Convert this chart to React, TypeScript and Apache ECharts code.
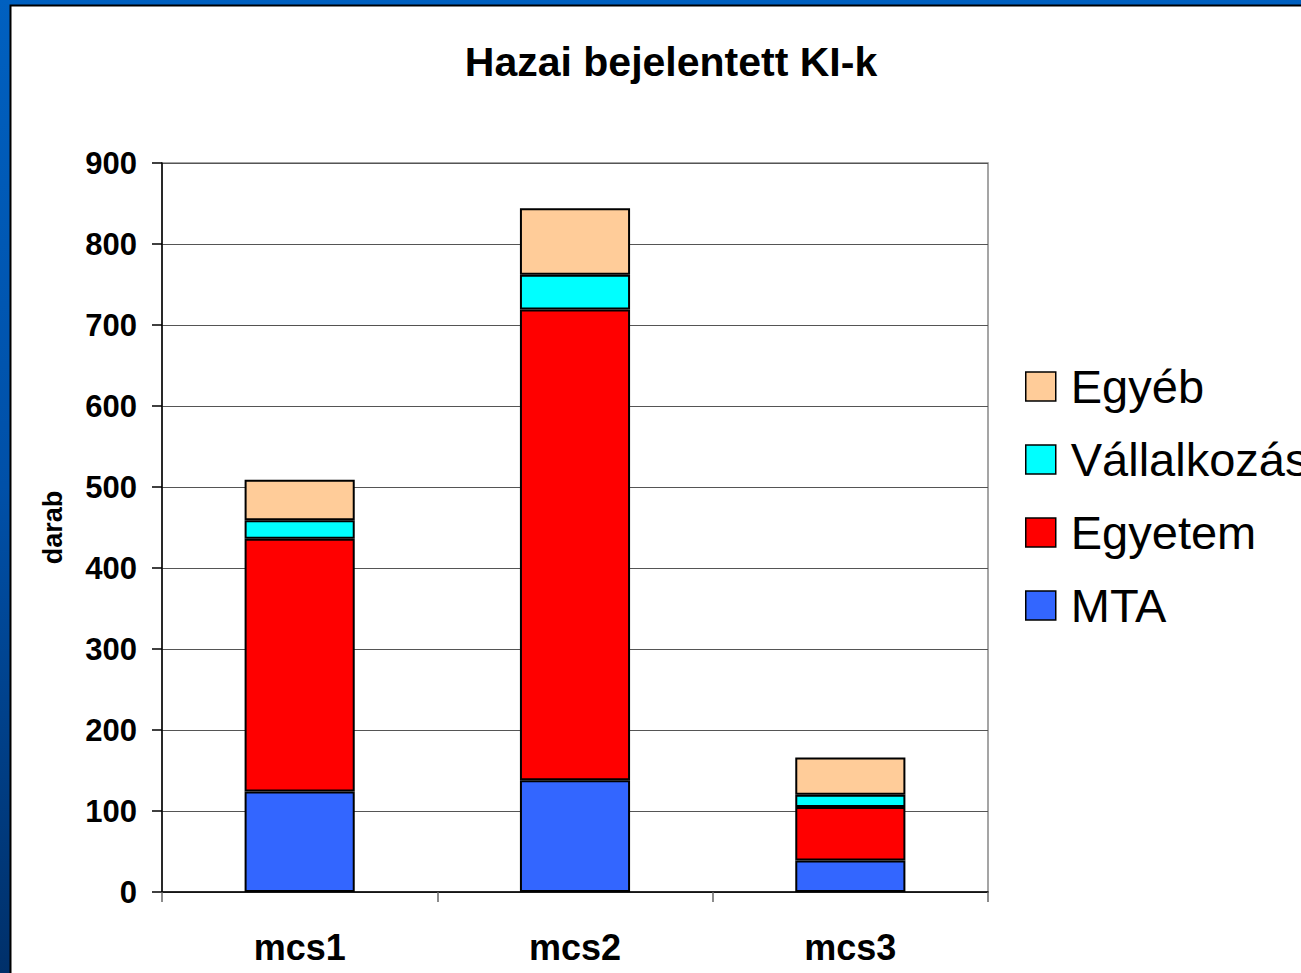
import React, { useEffect, useRef } from "react";
import * as echarts from "echarts";

const categories = ["mcs1", "mcs2", "mcs3"];
const mta = [124, 138, 39];
const egyetem = [312, 581, 66];
const vallalkozas = [23, 43, 15];
const egyeb = [50, 82, 46];
const legendOrder = ["Egyéb", "Vállalkozás", "Egyetem", "MTA"];

const FONT = "'Liberation Sans', Arial, sans-serif";

export default function App() {
  const ref = useRef<HTMLDivElement>(null);
  useEffect(() => {
    if (!ref.current) return;
    const chart = echarts.init(ref.current, undefined, { renderer: "svg" });
    const bar = (name: string, data: number[], color: string) => ({
      name,
      type: "bar",
      stack: "total",
      data,
      barWidth: "40%",
      itemStyle: { color, borderColor: "#000", borderWidth: 2 },
    });
    chart.setOption({
      animation: false,
      backgroundColor: "#ffffff",
      textStyle: { fontFamily: FONT },
      graphic: [
        {
          type: "rect",
          left: 0,
          top: 0,
          shape: { width: 1301, height: 973 },
          style: {
            fill: new echarts.graphic.LinearGradient(0, 0, 0, 1, [
              { offset: 0, color: "#0060c0" },
              { offset: 0.5, color: "#0050a8" },
              { offset: 1, color: "#00306a" },
            ]),
          },
          z: -10,
          silent: true,
        },
        {
          type: "rect",
          shape: { x: 10.5, y: 5.5, width: 1300, height: 980 },
          style: { fill: "#ffffff", stroke: "#000", lineWidth: 2 },
          z: -9,
          silent: true,
        },
      ],
      title: {
        text: "Hazai bejelentett KI-k",
        left: 666,
        textAlign: "center",
        top: 36,
        textStyle: { fontSize: 41, fontWeight: "bold", color: "#000", fontFamily: FONT },
      },
      legend: {
        orient: "vertical",
        left: 1025,
        top: 363,
        padding: 0,
        itemWidth: 30,
        itemHeight: 29,
        itemGap: 26,
        icon: "rect",
        data: legendOrder,
        textStyle: {
          fontSize: 47,
          lineHeight: 46,
          color: "#000",
          fontFamily: FONT,
          padding: [0, 0, 0, 10],
        },
        itemStyle: { borderColor: "#000", borderWidth: 1.5 },
      },
      grid: {
        left: 162,
        right: 313,
        top: 163,
        bottom: 81,
        show: true,
        borderColor: "#888",
        borderWidth: 1.5,
        backgroundColor: "transparent",
      },
      xAxis: {
        type: "category",
        data: categories,
        axisLine: { lineStyle: { color: "#000", width: 1.5 } },
        axisTick: { show: true, length: 10, interval: 0, lineStyle: { color: "#666", width: 1.5 } },
        axisLabel: {
          margin: 37,
          fontSize: 36,
          fontWeight: "bold",
          color: "#000",
          fontFamily: FONT,
        },
      },
      yAxis: {
        type: "value",
        min: 0,
        max: 900,
        interval: 100,
        name: "darab",
        nameLocation: "middle",
        nameRotate: 90,
        nameGap: 96,
        nameTextStyle: { fontSize: 27, fontWeight: "bold", color: "#000", fontFamily: FONT },
        axisLine: { show: true, lineStyle: { color: "#000", width: 1.5 } },
        axisTick: { show: true, length: 10, lineStyle: { color: "#000", width: 1.5 } },
        axisLabel: { margin: 25, fontSize: 31, fontWeight: "bold", color: "#000", fontFamily: FONT },
        splitLine: { show: true, lineStyle: { color: "#555", width: 1.2 } },
      },
      series: [
        bar("MTA", mta, "#3366ff"),
        bar("Egyetem", egyetem, "#ff0000"),
        bar("Vállalkozás", vallalkozas, "#00ffff"),
        bar("Egyéb", egyeb, "#ffcc99"),
      ],
    });
    return () => chart.dispose();
  }, []);
  return (
    <div
      ref={ref}
      style={{ position: "fixed", left: 0, top: 0, width: 1301, height: 973 }}
    />
  );
}
